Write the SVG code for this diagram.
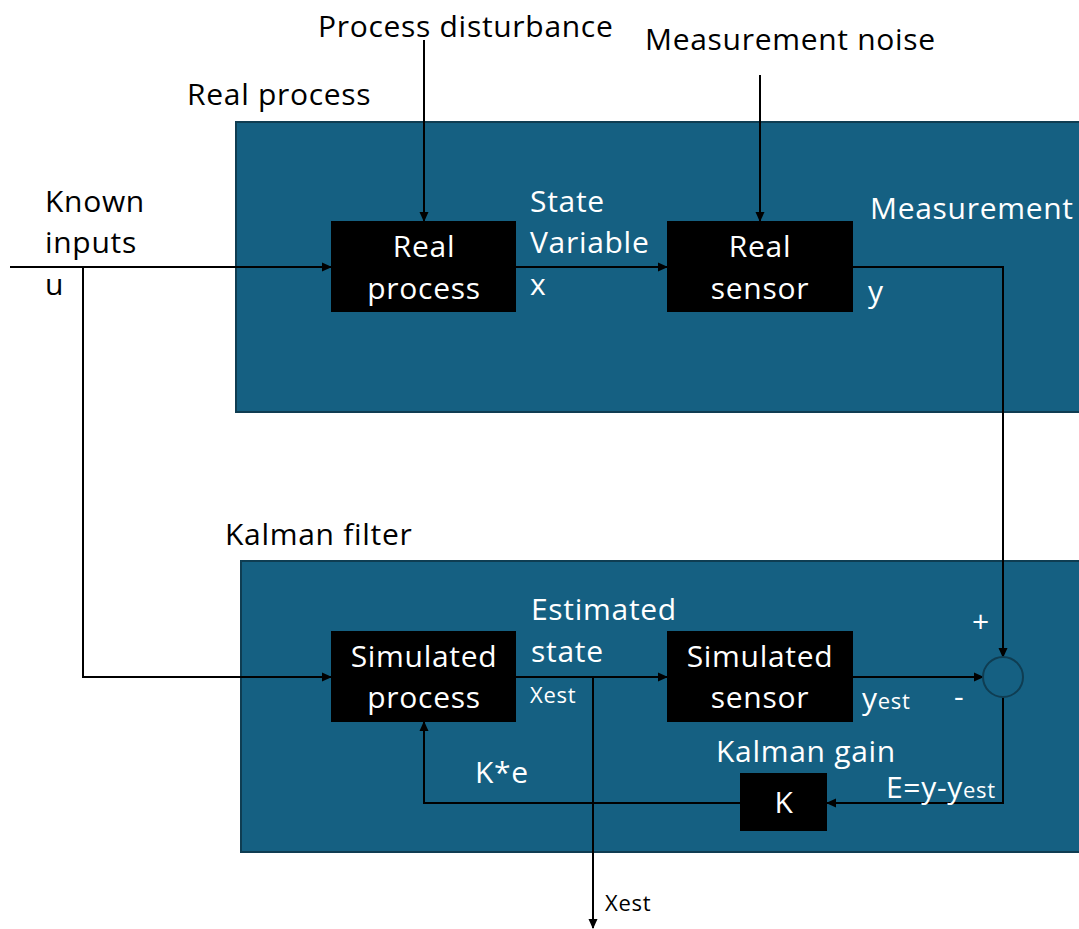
<svg xmlns="http://www.w3.org/2000/svg" width="1079" height="929" viewBox="0 0 1079 929">
  <style>
    text { font-family: "Open Sans", "Liberation Sans", sans-serif; font-size: 30px; letter-spacing: 0.7px; }
    .w { fill: #ffffff; }
    .k { fill: #000000; }
    .c { text-anchor: middle; }
    .sm { font-size: 22px; }
    .panel { fill: #156082; stroke: #0f3d52; stroke-width: 2; }
    .block { fill: #000000; }
    .wire { fill: none; stroke: #000000; stroke-width: 2; }
  </style>
  <defs>
    <marker id="arr" markerWidth="10" markerHeight="10" refX="9" refY="5" orient="auto" markerUnits="userSpaceOnUse">
      <path d="M0,0.5 L10,5 L0,9.5 z" fill="#000000"/>
    </marker>
  </defs>

  <rect width="1079" height="929" fill="#ffffff"/>

  <!-- panels -->
  <g id="real-panel">
    <rect class="panel" x="236" y="122" width="850" height="290"/>
    <text class="k" x="187" y="105">Real process</text>
  </g>
  <g id="kalman-panel">
    <rect class="panel" x="241" y="561" width="845" height="291"/>
    <text class="k" x="225" y="545">Kalman filter</text>
  </g>

  <!-- connectors -->
  <g id="connectors">
    <path class="wire" d="M10,267 H331" marker-end="url(#arr)"/>
    <path class="wire" d="M83,267 V677 H331" marker-end="url(#arr)"/>
    <path class="wire" d="M424,40 V221" marker-end="url(#arr)"/>
    <path class="wire" d="M760,75 V221" marker-end="url(#arr)"/>
    <path class="wire" d="M516,267 H667" marker-end="url(#arr)"/>
    <path class="wire" d="M853,267 H1003 V657" marker-end="url(#arr)"/>
    <path class="wire" d="M516,677 H667" marker-end="url(#arr)"/>
    <path class="wire" d="M593,677 V928" marker-end="url(#arr)"/>
    <path class="wire" d="M853,677 H983" marker-end="url(#arr)"/>
    <path class="wire" d="M1003,697 V803 H827" marker-end="url(#arr)"/>
    <path class="wire" d="M740,803 H424 V722" marker-end="url(#arr)"/>
  </g>

  <!-- external labels -->
  <g id="labels">
    <text class="k" x="318" y="37">Process disturbance</text>
    <text class="k" x="645" y="50">Measurement noise</text>
    <text class="k" x="45" y="212">Known</text>
    <text class="k" x="45" y="253">inputs</text>
    <text class="k" x="45" y="295">u</text>
    <text class="w" x="530" y="212">State</text>
    <text class="w" x="530" y="253">Variable</text>
    <text class="w" x="530" y="295">x</text>
    <text class="w" x="870" y="219">Measurement</text>
    <text class="w" x="868" y="302">y</text>
    <text class="w" x="531" y="620">Estimated</text>
    <text class="w" x="531" y="662">state</text>
    <text class="w sm" x="530" y="703">Xest</text>
    <text class="w" x="972" y="632">+</text>
    <text class="w" x="954" y="707">-</text>
    <text class="w" x="862" y="709">y<tspan font-size="22">est</tspan></text>
    <text class="w" x="716" y="762">Kalman gain</text>
    <text class="w" x="475" y="783">K*e</text>
    <text class="w" x="886" y="798">E=y-y<tspan font-size="22">est</tspan></text>
    <text class="k sm" x="605" y="911">Xest</text>
  </g>

  <!-- blocks -->
  <g id="real-process">
    <rect class="block" x="331" y="221" width="185" height="91"/>
    <text class="w c" x="424" y="257">Real</text>
    <text class="w c" x="424" y="299">process</text>
  </g>
  <g id="real-sensor">
    <rect class="block" x="667" y="221" width="186" height="91"/>
    <text class="w c" x="760" y="257">Real</text>
    <text class="w c" x="760" y="299">sensor</text>
  </g>
  <g id="simulated-process">
    <rect class="block" x="331" y="631" width="185" height="91"/>
    <text class="w c" x="424" y="667">Simulated</text>
    <text class="w c" x="424" y="708">process</text>
  </g>
  <g id="simulated-sensor">
    <rect class="block" x="667" y="631" width="186" height="91"/>
    <text class="w c" x="760" y="667">Simulated</text>
    <text class="w c" x="760" y="708">sensor</text>
  </g>
  <g id="kalman-gain">
    <rect class="block" x="740" y="773" width="87" height="58"/>
    <text class="w c" x="784" y="813">K</text>
  </g>
  <g id="summing-junction">
    <circle cx="1003" cy="677" r="20" fill="#156082" stroke="#0f3d52" stroke-width="2"/>
  </g>
</svg>
